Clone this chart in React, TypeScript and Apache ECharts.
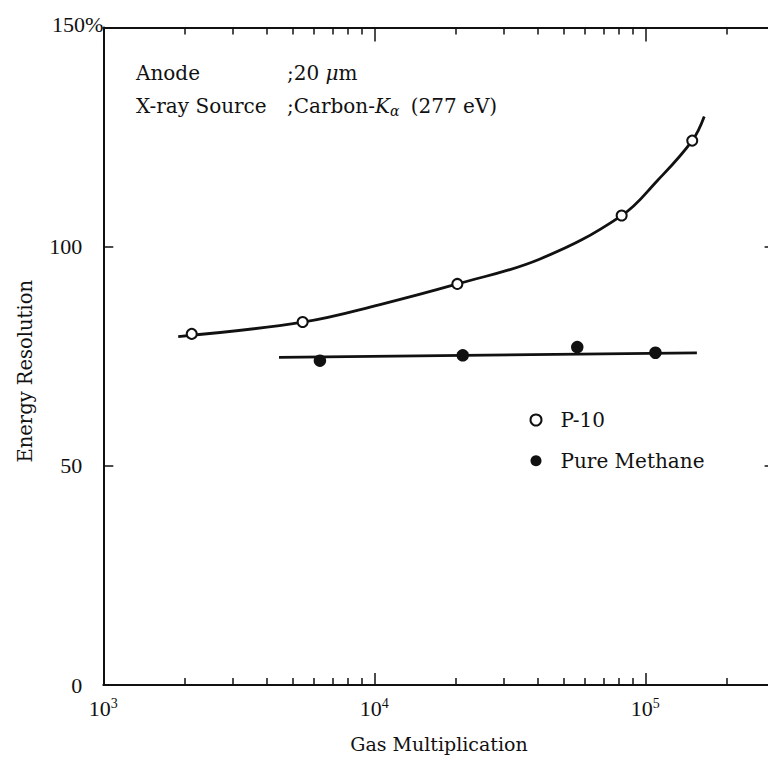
import React, { useEffect, useRef } from "react";
import * as echarts from "echarts";

// ---- data ----
const p10Gain = [2120, 5440, 20250, 81800, 149000];
const p10Res = [80.1, 82.8, 91.5, 107.1, 124.2];

const methaneGain = [6300, 21200, 56100, 109000];
const methaneRes = [74.0, 75.2, 77.1, 75.8];

// hand-drawn fit curves
const p10CurveGain = [1890, 5440, 10500, 20250, 40900, 81800, 110500, 149000, 165000];
const p10CurveRes = [79.5, 82.8, 86.8, 91.5, 97.2, 107.1, 115.0, 124.2, 129.7];

const methaneLineGain = [4450, 155000];
const methaneLineRes = [74.75, 75.75];

// ---- axes ----
const xMin = 1000;
const xMax = 300000;
const xMajorTicks = [1000, 10000, 100000];
const xMinorTicks = [
  2000, 3000, 4000, 5000, 6000, 7000, 8000, 9000,
  20000, 30000, 40000, 50000, 60000, 70000, 80000, 90000,
  200000,
];
const yMin = 0;
const yMax = 150;
const yInterval = 50;

const NUM_FONT = "'Liberation Serif', 'Times New Roman', serif";
const TXT_FONT = "'DejaVu Serif', serif";
const INK = "#111";

export default function App() {
  const ref = useRef<HTMLDivElement>(null);

  useEffect(() => {
    if (!ref.current) return;
    const chart = echarts.init(ref.current, null, { renderer: "svg" });

    const zip = (a: number[], b: number[]) => a.map((v, i) => [v, b[i]]);

    const xCommon = {
      type: "log" as const,
      logBase: 10,
      min: xMin,
      max: xMax,
      splitLine: { show: false },
    };

    const option: any = {
      animation: false,
      backgroundColor: "#fff",
      grid: { left: 103.3, right: 5.4, top: 27.5, bottom: 72.3, containLabel: false },
      xAxis: [
        {
          ...xCommon,
          position: "bottom",
          name: "Gas Multiplication",
          nameLocation: "middle",
          nameGap: 49,
          nameTextStyle: { fontFamily: TXT_FONT, fontSize: 19, color: INK },
          axisLine: { show: true, onZero: false, lineStyle: { color: INK, width: 2 } },
          axisTick: { show: true, inside: true, length: 12, customValues: xMajorTicks, lineStyle: { color: INK, width: 1.5 } },
          axisLabel: {
            show: true,
            margin: 10,
            customValues: xMajorTicks,
            formatter: (v: number) => "{b|10}{s|" + Math.round(Math.log10(v)) + "}",
            rich: {
              b: { fontFamily: NUM_FONT, fontSize: 22, color: INK, lineHeight: 26 },
              s: { fontFamily: NUM_FONT, fontSize: 14, color: INK, lineHeight: 15, verticalAlign: "top", padding: [1, 0, 0, 0] },
            },
          },
        },
        {
          ...xCommon,
          position: "bottom",
          axisLine: { show: false, onZero: false },
          axisTick: { show: true, inside: true, length: 7, customValues: xMinorTicks, lineStyle: { color: INK, width: 1.5 } },
          axisLabel: { show: false },
        },
        {
          ...xCommon,
          position: "top",
          axisLine: { show: true, onZero: false, lineStyle: { color: INK, width: 2 } },
          axisTick: { show: true, inside: true, length: 14, customValues: xMajorTicks, lineStyle: { color: INK, width: 1.5 } },
          axisLabel: { show: false },
        },
        {
          ...xCommon,
          position: "top",
          axisLine: { show: false, onZero: false },
          axisTick: { show: true, inside: true, length: 7, customValues: xMinorTicks, lineStyle: { color: INK, width: 1.5 } },
          axisLabel: { show: false },
        },
      ],
      yAxis: [
        {
          type: "value",
          position: "left",
          min: yMin,
          max: yMax,
          interval: yInterval,
          name: "Energy Resolution",
          nameLocation: "middle",
          nameGap: 68,
          nameTextStyle: { fontFamily: TXT_FONT, fontSize: 19.5, color: INK, padding: [0, 30, 0, 0] },
          axisLine: { show: true, onZero: false, lineStyle: { color: INK, width: 2 } },
          axisTick: { show: true, inside: true, length: 10, lineStyle: { color: INK, width: 1.5 } },
          axisLabel: {
            margin: 21,
            fontFamily: NUM_FONT,
            fontSize: 22,
            color: INK,
            formatter: (v: number) => (v === yMax ? "" : String(v)),
          },
          splitLine: { show: false },
        },
        {
          type: "value",
          position: "right",
          min: yMin,
          max: yMax,
          interval: yInterval,
          axisLine: { show: true, onZero: false, lineStyle: { color: INK, width: 2 } },
          axisTick: { show: true, inside: true, length: 10, lineStyle: { color: INK, width: 1.5 } },
          axisLabel: { show: false },
          splitLine: { show: false },
        },
      ],
      legend: {
        show: true,
        orient: "vertical",
        left: 524.5,
        top: 405,
        padding: 5,
        itemWidth: 39,
        itemHeight: 11,
        itemGap: 20.7,
        icon: "circle",
        data: ["P-10", "Pure Methane"],
        textStyle: { fontFamily: TXT_FONT, fontSize: 20, color: INK, lineHeight: 20 },
      },
      graphic: [
        {
          type: "text",
          left: 52,
          top: 13,
          style: { text: "150%", fontFamily: NUM_FONT, fontSize: 22, fill: INK },
          silent: true,
        },
        {
          type: "text",
          x: 136,
          y: 72.5,
          style: { text: "Anode", fontFamily: TXT_FONT, fontSize: 20, fill: INK, verticalAlign: "middle" },
          silent: true,
        },
        {
          type: "text",
          x: 287,
          y: 72.5,
          style: {
            text: ";20 {m|μ}m",
            fontFamily: TXT_FONT,
            fontSize: 20,
            fill: INK,
            verticalAlign: "middle",
            rich: { m: { fontFamily: TXT_FONT, fontSize: 20, fontStyle: "italic", fill: INK } },
          },
          silent: true,
        },
        {
          type: "text",
          x: 136,
          y: 106,
          style: { text: "X-ray Source", fontFamily: TXT_FONT, fontSize: 20, fill: INK, verticalAlign: "middle" },
          silent: true,
        },
        {
          type: "text",
          x: 287,
          y: 106,
          style: {
            text: ";Carbon-{k|K}{a|α} (277 eV)",
            fontFamily: TXT_FONT,
            fontSize: 20,
            fill: INK,
            verticalAlign: "middle",
            rich: {
              k: { fontFamily: TXT_FONT, fontSize: 20, fontStyle: "italic", fill: INK },
              a: { fontFamily: TXT_FONT, fontSize: 14, fontStyle: "italic", fill: INK, padding: [10, 5, 0, 0] },
            },
          },
          silent: true,
        },
      ],
      series: [
        {
          name: "P-10 fit",
          type: "line",
          xAxisIndex: 0,
          yAxisIndex: 0,
          data: zip(p10CurveGain, p10CurveRes),
          smooth: 0.4,
          showSymbol: false,
          symbol: "none",
          lineStyle: { color: INK, width: 2.8 },
          z: 2,
        },
        {
          name: "Pure Methane fit",
          type: "line",
          xAxisIndex: 0,
          yAxisIndex: 0,
          data: zip(methaneLineGain, methaneLineRes),
          showSymbol: false,
          symbol: "none",
          lineStyle: { color: INK, width: 2.8 },
          z: 2,
        },
        {
          name: "P-10",
          type: "scatter",
          xAxisIndex: 0,
          yAxisIndex: 0,
          data: zip(p10Gain, p10Res),
          symbol: "circle",
          symbolSize: 10,
          itemStyle: { color: "#fff", borderColor: INK, borderWidth: 2, opacity: 1 },
          z: 5,
        },
        {
          name: "Pure Methane",
          type: "scatter",
          xAxisIndex: 0,
          yAxisIndex: 0,
          data: zip(methaneGain, methaneRes),
          symbol: "circle",
          symbolSize: 12.5,
          itemStyle: { color: INK, opacity: 1 },
          z: 5,
        },
      ],
    };

    chart.setOption(option);
    return () => chart.dispose();
  }, []);

  return (
    <div
      style={{ position: "absolute", left: 0, top: 0, width: 768, height: 758, overflow: "hidden", background: "#fff" }}
    >
      <div ref={ref} style={{ position: "absolute", left: 0, top: 0, width: 780, height: 758 }} />
    </div>
  );
}
